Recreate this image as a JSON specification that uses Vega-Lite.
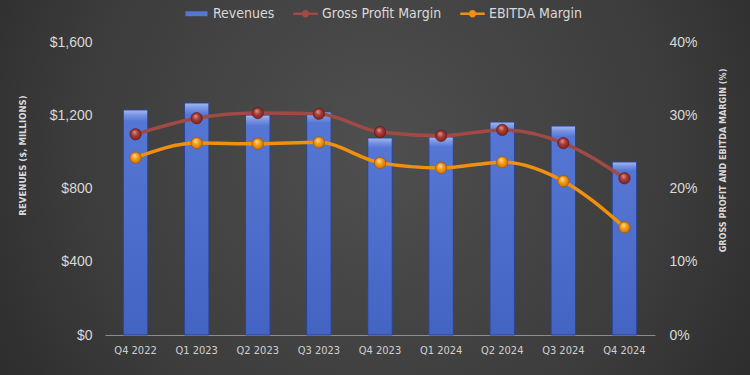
{
  "$schema": "https://vega.github.io/schema/vega-lite/v6.json",
  "width": 750,
  "height": 375,
  "autosize": {"type": "none"},
  "padding": 0,
  "background": "#262626",
  "view": {
    "stroke": null,
    "fill": {
      "gradient": "radial",
      "x1": 0.5, "y1": 0.45, "r1": 0,
      "x2": 0.5, "y2": 0.45, "r2": 0.72,
      "stops": [
        {"offset": 0, "color": "#4f4f4f"},
        {"offset": 0.55, "color": "#3c3c3c"},
        {"offset": 1, "color": "#222222"}
      ]
    }
  },
  "data": {
    "values": [
      {"q": "Q4 2022", "rev": 1229, "gpm": 0.274, "ebitda": 0.242},
      {"q": "Q1 2023", "rev": 1267, "gpm": 0.296, "ebitda": 0.262},
      {"q": "Q2 2023", "rev": 1201, "gpm": 0.303, "ebitda": 0.261},
      {"q": "Q3 2023", "rev": 1218, "gpm": 0.302, "ebitda": 0.263},
      {"q": "Q4 2023", "rev": 1076, "gpm": 0.277, "ebitda": 0.235},
      {"q": "Q1 2024", "rev": 1081, "gpm": 0.272, "ebitda": 0.228},
      {"q": "Q2 2024", "rev": 1163, "gpm": 0.280, "ebitda": 0.236},
      {"q": "Q3 2024", "rev": 1141, "gpm": 0.262, "ebitda": 0.210},
      {"q": "Q4 2024", "rev": 945, "gpm": 0.214, "ebitda": 0.147}
    ]
  },
  "encoding": {
    "x": {
      "field": "q",
      "type": "nominal",
      "sort": null,
      "scale": {"range": [105, 655], "paddingInner": 0.6, "paddingOuter": 0.3},
      "axis": {
        "title": null,
        "offset": -40,
        "labelAngle": 0,
        "ticks": false,
        "domainColor": "#8c8c8c",
        "domainWidth": 1,
        "labelColor": "#d0d0d0",
        "labelFont": "Liberation Sans Narrow, DejaVu Sans Condensed, sans-serif",
        "labelFontSize": 11,
        "labelPadding": 9
      }
    }
  },
  "layer": [
    {
      "mark": {
        "type": "bar",
        "stroke": "#2c4590",
        "strokeWidth": 1,
        "fill": {
          "gradient": "linear",
          "x1": 0, "y1": 0, "x2": 0, "y2": 1,
          "stops": [
            {"offset": 0, "color": "#a3b8f2"},
            {"offset": 0.025, "color": "#7592e2"},
            {"offset": 0.05, "color": "#5676d3"},
            {"offset": 1, "color": "#4464c4"}
          ]
        }
      },
      "encoding": {
        "y": {
          "field": "rev",
          "type": "quantitative",
          "scale": {"domain": [0, 1600], "range": [335, 42], "nice": false},
          "axis": {
            "orient": "left",
            "offset": -100,
            "values": [0, 400, 800, 1200, 1600],
            "format": "$,.0f",
            "grid": false,
            "ticks": false,
            "domain": false,
            "labelColor": "#d9d9d9",
            "labelFont": "Liberation Sans, Arial, sans-serif",
            "labelFontSize": 14,
            "labelPadding": 8,
            "title": "REVENUES ($, MILLIONS)",
            "titleColor": "#d9d9d9",
            "titleFont": "Liberation Sans Narrow, DejaVu Sans Condensed, sans-serif",
            "titleFontSize": 9.5,
            "titleFontWeight": "bold",
            "titleAngle": -90,
            "titleX": -78,
            "titleY": 155,
            "titleAlign": "center",
            "titleBaseline": "middle"
          }
        }
      }
    },
    {
      "layer": [
        {
          "mark": {"type": "line", "interpolate": "monotone", "strokeWidth": 3.5},
          "encoding": {
            "y": {
              "field": "gpm",
              "type": "quantitative",
              "scale": {"domain": [0, 0.4], "range": [335, 42], "nice": false},
              "axis": {
                "orient": "right",
                "offset": -90,
                "values": [0, 0.1, 0.2, 0.3, 0.4],
                "format": ".0%",
                "grid": false,
                "ticks": false,
                "domain": false,
                "labelColor": "#d9d9d9",
                "labelFont": "Liberation Sans, Arial, sans-serif",
                "labelFontSize": 14,
                "labelPadding": 9,
                "title": "GROSS PROFIT AND EBITDA MARGIN (%)",
                "titleColor": "#d9d9d9",
                "titleFont": "Liberation Sans Narrow, DejaVu Sans Condensed, sans-serif",
                "titleFontSize": 9,
                "titleFontWeight": "bold",
                "titleAngle": -90,
                "titleX": 62,
                "titleY": 160,
                "titleAlign": "center",
                "titleBaseline": "middle"
              }
            },
            "color": {
              "datum": "Gross Profit Margin",
              "scale": {
                "domain": ["Revenues", "Gross Profit Margin", "EBITDA Margin"],
                "range": ["#5676d3", "#a04a46", "#f0900f"]
              },
              "legend": {
                "orient": "none",
                "legendX": 184,
                "legendY": 1,
                "direction": "horizontal",
                "title": null,
                "labelColor": "#d9d9d9",
                "labelFont": "Liberation Sans Narrow, DejaVu Sans Condensed, sans-serif",
                "labelFontSize": 14,
                "labelOffset": 4,
                "columnPadding": 18,
                "symbolSize": 600,
                "encode": {
                  "symbols": {
                    "update": {
                      "shape": {"signal": "datum.value === 'Revenues' ? 'M-0.9,-0.2H0.9V0.2H-0.9Z' : 'M-1,-0.1H1V0.1H-1Z M0.3,0A0.3,0.3,0,1,1,-0.3,0A0.3,0.3,0,1,1,0.3,0Z'"},
                      "fill": {"signal": "scale('color', datum.value)"},
                      "stroke": {"value": "transparent"},
                      "strokeWidth": {"value": 0},
                      "opacity": {"value": 1}
                    }
                  }
                }
              }
            }
          }
        },
        {
          "mark": {
            "type": "point",
            "filled": true,
            "size": 130,
            "opacity": 1,
            "stroke": "#5a1816",
            "strokeWidth": 0.6,
            "fill": {
              "gradient": "radial",
              "x1": 0.4, "y1": 0.3, "r1": 0,
              "x2": 0.5, "y2": 0.5, "r2": 0.6,
              "stops": [
                {"offset": 0, "color": "#e29a94"},
                {"offset": 0.45, "color": "#a83a36"},
                {"offset": 1, "color": "#6a1f1d"}
              ]
            }
          },
          "encoding": {
            "y": {"field": "gpm", "type": "quantitative"}
          }
        },
        {
          "mark": {"type": "line", "interpolate": "monotone", "strokeWidth": 3.5},
          "encoding": {
            "y": {"field": "ebitda", "type": "quantitative"},
            "color": {"datum": "EBITDA Margin"}
          }
        },
        {
          "mark": {
            "type": "point",
            "filled": true,
            "size": 130,
            "opacity": 1,
            "stroke": "#9a5200",
            "strokeWidth": 0.6,
            "fill": {
              "gradient": "radial",
              "x1": 0.4, "y1": 0.3, "r1": 0,
              "x2": 0.5, "y2": 0.5, "r2": 0.6,
              "stops": [
                {"offset": 0, "color": "#ffe0a0"},
                {"offset": 0.45, "color": "#f59a18"},
                {"offset": 1, "color": "#c06800"}
              ]
            }
          },
          "encoding": {
            "y": {"field": "ebitda", "type": "quantitative"}
          }
        }
      ]
    }
  ],
  "resolve": {"scale": {"y": "independent"}}
}
